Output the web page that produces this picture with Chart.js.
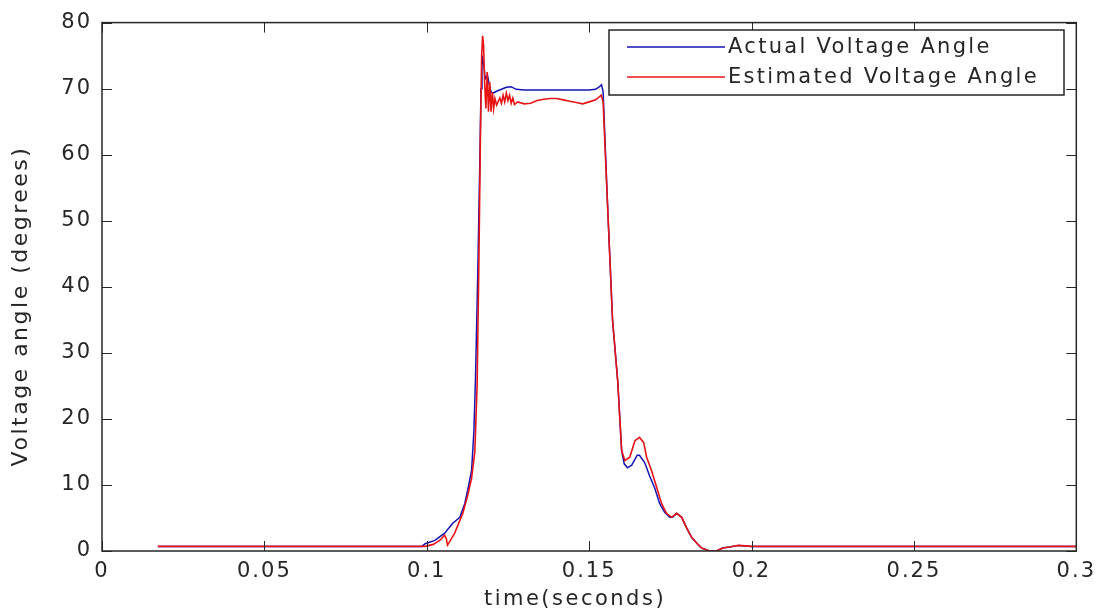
<!DOCTYPE html>
<html>
<head>
<meta charset="utf-8">
<script src="https://cdn.jsdelivr.net/npm/chart.js@4"></script>
<style>
    body { margin: 0; background: #fff; }
    #wrap { width: 1101px; height: 615px; }
</style>
</head>
<body>
<div id="wrap"><canvas id="myChart"></canvas></div>
<script>
// Data
const actualTime = [0.0172, 0.0985, 0.0995, 0.1025, 0.1055, 0.108, 0.1102, 0.1117, 0.1126, 0.1138, 0.1145, 0.115, 0.1157, 0.1163, 0.1167, 0.117,
    0.1176, 0.118, 0.1187, 0.1193, 0.1198, 0.1203, 0.1215, 0.123, 0.1245, 0.126, 0.1275, 0.13, 0.14, 0.15, 0.152, 0.1532, 0.1538, 0.1543,
    0.1557, 0.1572, 0.1588, 0.16, 0.1608, 0.1618, 0.1631, 0.1648, 0.1655, 0.1671, 0.1686, 0.1702, 0.1717, 0.1732, 0.1748, 0.1757, 0.1769,
    0.1785, 0.18, 0.1815, 0.1831, 0.1846, 0.1871, 0.1892, 0.1911, 0.1932, 0.196, 0.2, 0.3];
const actualAngle = [0.7, 0.7, 1.1, 1.6, 2.7, 4.2, 5.1, 7.2, 9.2, 12.2, 18, 26, 42, 58, 70, 75,
    73.5, 71.5, 72, 70.5, 69.5, 69.3, 69.6, 69.9, 70.2, 70.3, 69.9, 69.8, 69.8, 69.8, 69.9, 70.3, 70.6, 69.5,
    52, 35, 25.7, 15.2, 13.2, 12.6, 13, 14.5, 14.5, 13.4, 11.4, 9.5, 7.2, 5.9, 5.1, 5.1, 5.7,
    5.1, 3.5, 2.1, 1.2, 0.45, 0, 0, 0.45, 0.6, 0.85, 0.7, 0.7];

const estTime = [0.0172, 0.0995, 0.102, 0.104, 0.1055, 0.106, 0.1064, 0.1086, 0.1111, 0.1126, 0.1138, 0.1148, 0.1155, 0.116, 0.1165, 0.1169, 0.1172,
    0.1175, 0.1178, 0.1182, 0.1186, 0.119, 0.1194, 0.1198, 0.1202, 0.1206, 0.121, 0.1215, 0.1225, 0.123, 0.1235, 0.124, 0.1245, 0.125,
    0.1255, 0.126, 0.1265, 0.127, 0.128, 0.13, 0.132, 0.134, 0.136, 0.138, 0.14, 0.142, 0.144, 0.146, 0.148, 0.15, 0.152, 0.153, 0.1537,
    0.1543, 0.1557, 0.1572, 0.1588, 0.16, 0.161, 0.1625, 0.1641, 0.1655, 0.1668, 0.1677, 0.1692, 0.1708, 0.1723, 0.1738, 0.1754, 0.1769,
    0.1785, 0.18, 0.1815, 0.1831, 0.1846, 0.1871, 0.1892, 0.1911, 0.1932, 0.196, 0.2, 0.3];
const estAngle = [0.7, 0.7, 1.0, 1.6, 2.4, 1.9, 0.9, 2.7, 5.7, 8.4, 11, 15, 25, 42, 62, 75, 78,
    76.5, 71, 67, 72.5, 66.5, 71, 66.5, 69.5, 67, 68.5, 67.5, 68.6, 67.8, 69, 68, 69.3, 68.2,
    69, 67.8, 68.6, 67.6, 68, 67.7, 67.8, 68.2, 68.4, 68.5, 68.5, 68.3, 68.1, 67.9, 67.7, 68, 68.3, 68.7, 69,
    68, 52, 35, 25.7, 15.2, 13.7, 14.2, 16.7, 17.2, 16.4, 14.2, 12.2, 9.6, 7.2, 5.7, 5.1, 5.7,
    5.1, 3.5, 2.1, 1.2, 0.45, 0, 0, 0.45, 0.6, 0.85, 0.7, 0.7];

const xTicks = [0, 0.05, 0.1, 0.15, 0.2, 0.25, 0.3];
const yTicks = [0, 10, 20, 30, 40, 50, 60, 70, 80];
const seriesNames = ['Actual Voltage Angle', 'Estimated Voltage Angle'];
const seriesColors = ['#1414b4', '#e81414'];

const toPoints = (ts, vs) => ts.map((t, i) => ({ x: t, y: vs[i] }));

const FONT = 'DejaVu Sans';
const INK = '#262626';

// box, inward ticks, legend and axis titles drawn the matlab way
const matlabFrame = {
    id: 'matlabFrame',
    beforeDraw(chart) {
        chart.ctx.letterSpacing = '2px';
    },
    afterDraw(chart) {
        const ctx = chart.ctx;
        const { left, right, top, bottom } = chart.chartArea;
        const xs = chart.scales.x;
        const ys = chart.scales.y;
        ctx.save();
        ctx.strokeStyle = INK;
        ctx.lineWidth = 1.5;
        ctx.strokeRect(left, top, right - left, bottom - top);

        ctx.beginPath();
        xTicks.forEach(v => {
            const px = Math.round(xs.getPixelForValue(v)) + 0.5;
            ctx.moveTo(px, bottom); ctx.lineTo(px, bottom - 10);
            ctx.moveTo(px, top); ctx.lineTo(px, top + 10);
        });
        yTicks.forEach(v => {
            const py = Math.round(ys.getPixelForValue(v)) + 0.5;
            ctx.moveTo(left, py); ctx.lineTo(left + 10, py);
            ctx.moveTo(right, py); ctx.lineTo(right - 10, py);
        });
        ctx.lineWidth = 1;
        ctx.stroke();

        // legend
        ctx.fillStyle = '#fff';
        ctx.fillRect(609, 30, 455, 65);
        ctx.lineWidth = 1.5;
        ctx.strokeRect(609, 30, 455, 65);
        ctx.font = '21px "' + FONT + '"';
        ctx.textBaseline = 'middle';
        ctx.textAlign = 'left';
        ctx.letterSpacing = '2.3px';
        seriesNames.forEach((name, i) => {
            const y = 47 + i * 30;
            ctx.strokeStyle = seriesColors[i];
            ctx.beginPath();
            ctx.moveTo(627, y); ctx.lineTo(725, y);
            ctx.stroke();
            ctx.fillStyle = INK;
            ctx.fillText(name, 728, y + 1);
        });

        // axis titles
        ctx.letterSpacing = '2.5px';
        ctx.fillStyle = INK;
        ctx.textAlign = 'center';
        ctx.fillText('time(seconds)', 575, 600);
        ctx.translate(21, 306);
        ctx.rotate(-Math.PI / 2);
        ctx.font = '22px "' + FONT + '"';
        ctx.fillText('Voltage angle (degrees)', 0, 0);
        ctx.restore();
    }
};

const ctx = document.getElementById('myChart').getContext('2d');

const data = {
    datasets: [{
        label: seriesNames[0],
        data: toPoints(actualTime, actualAngle),
        borderColor: seriesColors[0],
        borderWidth: 1.5,
        pointRadius: 0,
        fill: false,
        order: 1,
    }, {
        label: seriesNames[1],
        data: toPoints(estTime, estAngle),
        borderColor: seriesColors[1],
        borderWidth: 1.6,
        pointRadius: 0,
        fill: false,
        order: 0,
    }],
};

const options = {
    responsive: true,
    maintainAspectRatio: false,
    animation: false,
    layout: { padding: { top: 20, right: 24, left: 0, bottom: 0 } },
    plugins: {
        legend: { display: false },
        tooltip: { enabled: false },
    },
    scales: {
        x: {
            type: 'linear',
            min: 0,
            max: 0.3,
            afterBuildTicks: s => { s.ticks = xTicks.map(v => ({ value: v })); },
            afterFit: s => { s.height = 64; },
            grid: { display: false, drawTicks: false },
            border: { display: false },
            ticks: {
                color: INK,
                padding: 8,
                maxRotation: 0,
                autoSkip: false,
                font: { family: FONT, size: 21 },
                callback: v => String(+v.toFixed(2)),
            },
        },
        y: {
            min: 0,
            max: 80,
            afterBuildTicks: s => { s.ticks = yTicks.map(v => ({ value: v })); },
            afterFit: s => { s.width = 102; },
            grid: { display: false, drawTicks: false },
            border: { display: false },
            ticks: {
                color: INK,
                padding: 10,
                font: { family: FONT, size: 21 },
            },
        },
    },
};

const myChart = new Chart(ctx, {
    type: 'line',
    data: data,
    options: options,
    plugins: [matlabFrame],
});
</script>
</body>
</html>
